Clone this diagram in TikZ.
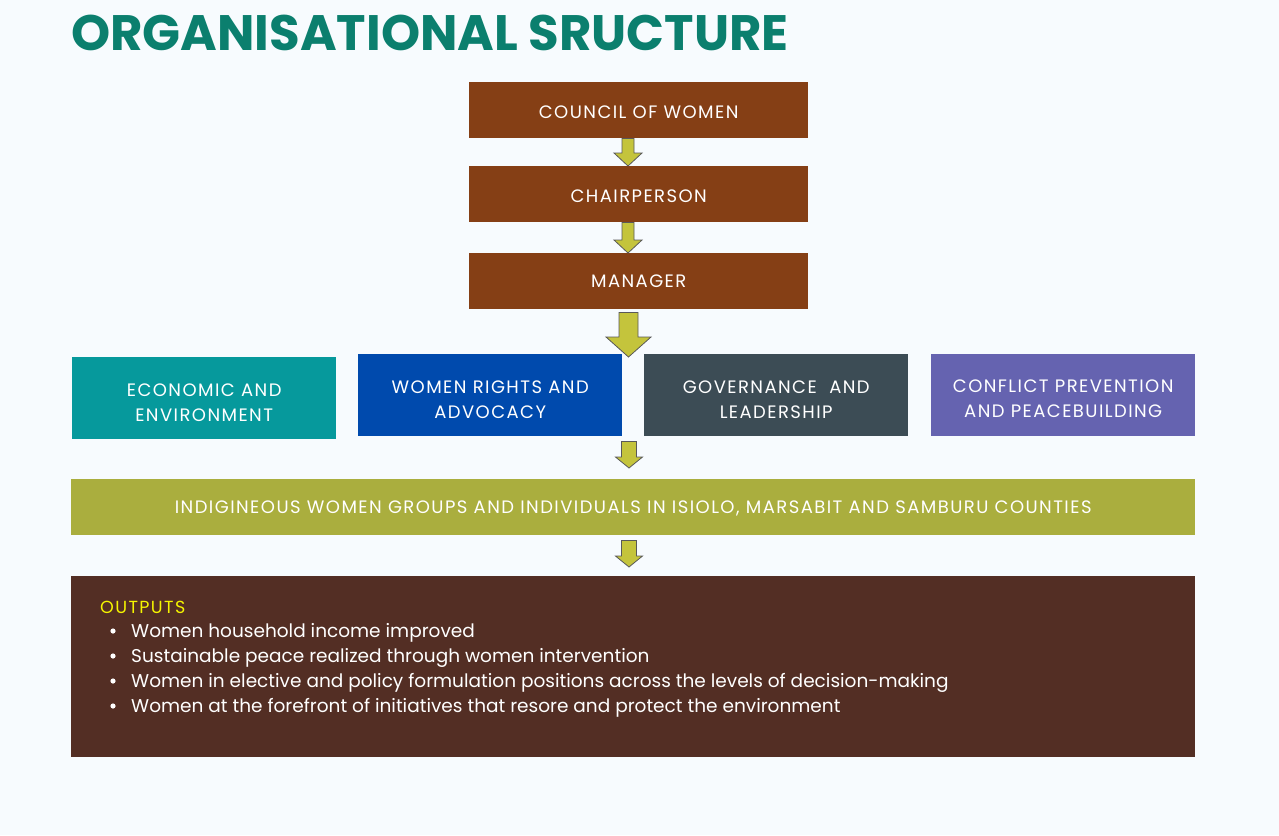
\documentclass[tikz,border=0pt]{standalone}
\usepackage{fontspec}
\setmainfont{Poppins}
\newfontfamily\capsfont[LetterSpace=8]{Poppins}
\usetikzlibrary{calc}
\definecolor{bgc}{HTML}{F7FBFE}
\definecolor{titlec}{HTML}{0B7F6E}
\definecolor{brownc}{HTML}{853F15}
\definecolor{tealc}{HTML}{06999C}
\definecolor{bluec}{HTML}{004AAD}
\definecolor{slatec}{HTML}{3C4C55}
\definecolor{purplec}{HTML}{6563B0}
\definecolor{olivec}{HTML}{AAAE3E}
\definecolor{darkbrownc}{HTML}{532E24}
\definecolor{arrowc}{HTML}{C4C43C}
\definecolor{yellowc}{HTML}{F5F500}
\tikzset{
  boxsty/.style={anchor=north west, inner sep=0pt, text=white, align=center, font=\capsfont\fontsize{18}{25}\selectfont},
  arrowsty/.style={fill=arrowc, draw=black!65, line width=0.8pt, line join=miter},
}
\newcommand\blockarr[5]{%
  \filldraw[arrowsty] let \p1=(#1), \p2=(#2) in
   (\x1-#3,\y1) -- (\x1+#3,\y1) -- (\x1+#3,\y2+#5) -- (\x1+#4,\y2+#5) -- (\x2,\y2)
   -- (\x1-#4,\y2+#5) -- (\x1-#3,\y2+#5) -- cycle;}
\begin{document}
\begin{tikzpicture}[x=1pt,y=-1pt]
\fill[bgc] (0,0) rectangle (1279,835);
\useasboundingbox (0,0) rectangle (1279,835);
\node[anchor=base west, inner sep=0pt, text=titlec, font=\fontsize{49.8}{50}\selectfont\bfseries] (title) at (71,50) {ORGANISATIONAL SRUCTURE};
% top chain
\node[boxsty, fill=brownc, minimum width=339pt, minimum height=56pt] (council) at (469,82) {\rule{0pt}{16pt}COUNCIL OF WOMEN};
\node[boxsty, fill=brownc, minimum width=339pt, minimum height=56pt] (chair) at (469,166) {\rule{0pt}{16pt}CHAIRPERSON};
\node[boxsty, fill=brownc, minimum width=339pt, minimum height=56pt] (manager) at (469,253) {MANAGER};
% departments
\node[boxsty, fill=tealc, minimum width=264pt, minimum height=82pt] (econ) at (72,357) {\rule{0pt}{22pt}ECONOMIC AND\\ENVIRONMENT};
\node[boxsty, fill=bluec, minimum width=264pt, minimum height=82pt] (rights) at (358,354) {\rule{0pt}{22pt}WOMEN RIGHTS AND\\ADVOCACY};
\node[boxsty, fill=slatec, minimum width=264pt, minimum height=82pt] (gov) at (644,354) {\rule{0pt}{22pt}GOVERNANCE~ AND\\LEADERSHIP};
\node[boxsty, fill=purplec, minimum width=264pt, minimum height=82pt] (conf) at (931,354) {\rule{0pt}{20pt}CONFLICT PREVENTION\\AND PEACEBUILDING};
% groups
\node[boxsty, fill=olivec, minimum width=1124pt, minimum height=56pt] (groups) at (71,479) {\rule{0pt}{16pt}INDIGINEOUS WOMEN GROUPS AND INDIVIDUALS IN ISIOLO, MARSABIT AND SAMBURU COUNTIES};
% outputs
\node[boxsty, fill=darkbrownc, minimum width=1124pt, minimum height=181pt] (outputs) at (71,576) {};
\node[anchor=base west, inner sep=0pt, text=yellowc, font=\capsfont\fontsize{17.5}{25}\selectfont] (outtitle) at (100,613) {OUTPUTS};
\foreach \i/\t in {0/Women household income improved,
  1/Sustainable peace realized through women intervention,
  2/Women in elective and policy formulation positions across the levels of decision-making,
  3/Women at the forefront of initiatives that resore and protect the environment}{
  \fill[white] (113,{631+25*\i}) circle (2.6pt);
  \node[anchor=base west, inner sep=0pt, text=white, font=\fontsize{18.5}{25}\selectfont] (item\i) at (131,{637+25*\i}) {\t};
}
% arrows
\coordinate (ax1) at (628,0);
\coordinate (ax2) at (628.5,0);
\coordinate (ax3) at (629,0);
\blockarr{council.south -| ax1}{chair.north -| ax1}{6pt}{14pt}{13pt}
\blockarr{chair.south -| ax1}{manager.north -| ax1}{6pt}{14pt}{13pt}
\blockarr{$(manager.south -| ax2)+(0,3)$}{$(rights.north -| ax2)+(0,3)$}{9.5pt}{22.5pt}{20pt}
\blockarr{$(rights.south -| ax3)+(0,5)$}{$(groups.north -| ax3)+(0,-11)$}{7.5pt}{13.5pt}{11pt}
\blockarr{$(groups.south -| ax3)+(0,5)$}{$(outputs.north -| ax3)+(0,-9)$}{7.5pt}{13.5pt}{11pt}
\end{tikzpicture}
\end{document}
